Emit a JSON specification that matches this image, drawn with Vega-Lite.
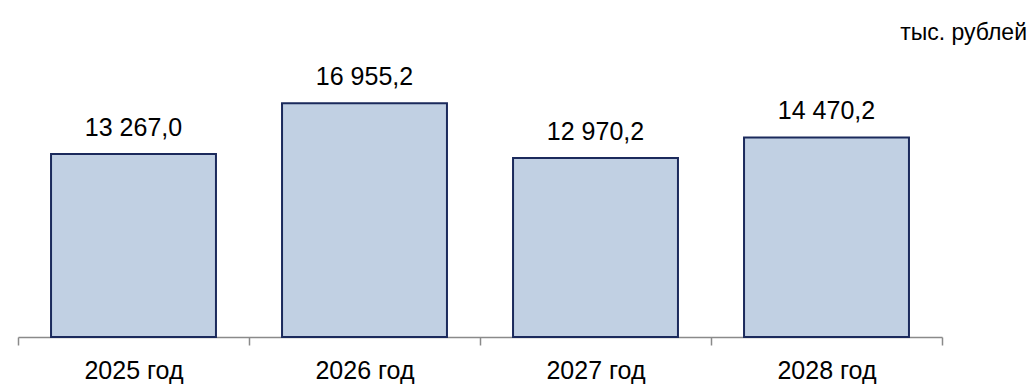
{
  "$schema": "https://vega.github.io/schema/vega-lite/v6.json",
  "width": 924,
  "height": 331,
  "autosize": {"type": "none"},
  "padding": {"left": 18, "top": 6, "right": 88, "bottom": 49},
  "background": "white",
  "title": {
    "text": "тыс. рублей",
    "anchor": "end",
    "frame": "group",
    "font": "Liberation Sans",
    "fontSize": 23,
    "fontWeight": "normal",
    "color": "#000000",
    "dx": 85,
    "dy": 62,
    "offset": 0,
    "baseline": "bottom"
  },
  "data": {
    "values": [
      {"year": "2025 год", "value": 13267.0, "label": "13 267,0"},
      {"year": "2026 год", "value": 16955.2, "label": "16 955,2"},
      {"year": "2027 год", "value": 12970.2, "label": "12 970,2"},
      {"year": "2028 год", "value": 14470.2, "label": "14 470,2"}
    ]
  },
  "config": {"view": {"stroke": null}},
  "encoding": {
    "x": {
      "field": "year",
      "type": "nominal",
      "sort": null,
      "scale": {"paddingInner": 0, "paddingOuter": 0},
      "axis": {
        "title": null,
        "labelAngle": 0,
        "labelFont": "Liberation Sans",
        "labelFontSize": 25,
        "labelColor": "#000000",
        "labelPadding": 13,
        "tickBand": "extent",
        "tickSize": 8,
        "tickColor": "#8a8a8a",
        "domainColor": "#8a8a8a",
        "domainWidth": 1.5,
        "tickWidth": 1.5
      }
    },
    "y": {
      "field": "value",
      "type": "quantitative",
      "scale": {"domain": [0, 24000]},
      "axis": null
    }
  },
  "layer": [
    {
      "mark": {"type": "bar", "width": {"band": 0.714}, "fill": "#c1d0e3", "stroke": "#1b2a5c", "strokeWidth": 2}
    },
    {
      "mark": {"type": "text", "baseline": "bottom", "dy": -13, "font": "Liberation Sans", "fontSize": 25, "color": "#000000"},
      "encoding": {"text": {"field": "label"}}
    }
  ]
}
